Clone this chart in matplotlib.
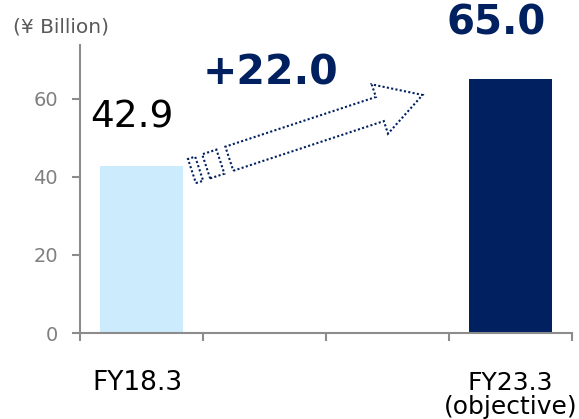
import matplotlib
matplotlib.use("Agg")
import matplotlib.pyplot as plt
import numpy as np
from matplotlib.patches import Polygon
from matplotlib.transforms import blended_transform_factory

# Data
slots = ["FY18.3", "", "", "FY23.3\n(objective)"]
bar_slots = [0, 3]
values = [42.9, 65.0]
bar_colors = ["#CCEBFC", "#002060"]
increase = 22.0

NAVY = "#002060"
GREY = "#8C8C8C"

plt.rcParams["font.family"] = ["DejaVu Sans"]

fig = plt.figure(figsize=(5.79, 4.19), dpi=100)
ax = fig.add_axes([80 / 579, 86 / 419, 492 / 579, 288 / 419])

ax.bar(bar_slots, values, width=0.68, color=bar_colors, zorder=2)

ax.set_xlim(-0.5, len(slots) - 0.5)
ax.set_ylim(0, 73.8)

# axis styling
for side in ["top", "right"]:
    ax.spines[side].set_visible(False)
for side in ["left", "bottom"]:
    ax.spines[side].set_color(GREY)
    ax.spines[side].set_linewidth(1.5)

ax.set_yticks([0, 20, 40, 60])
ax.tick_params(axis="y", direction="out", length=6, width=1.5, color=GREY,
               labelsize=14, labelcolor="#7F7F7F", pad=10)
ax.set_xticks(np.arange(-0.5, len(slots), 1.0))
ax.set_xticklabels([])
ax.tick_params(axis="x", direction="out", length=6, width=1.5, color=GREY)

# category labels under the bars
trans = blended_transform_factory(ax.transData, ax.transAxes)
ax.text(bar_slots[0] - 0.03, -50 / 288, slots[0], transform=trans,
        ha="center", va="center", fontsize=19, color="black")
ax.text(bar_slots[1], -62 / 288, slots[3], transform=trans, ha="center",
        va="center", fontsize=18, color="black", linespacing=0.95)

fig.text(61 / 579, 1 - 27 / 419, "(¥ Billion)", ha="center", va="center",
         fontsize=14.5, color="#595959")

# value labels
ax.text(-0.08, 55.2, f"{values[0]:.1f}", ha="center", va="center",
        fontsize=27, color="black")
ax.text(2.88, 79.2, f"{values[1]:.1f}", ha="center", va="center",
        fontsize=29, color=NAVY, fontweight="bold", clip_on=False)
ax.text(1.05, 66.6, f"+{increase:.1f}", ha="center", va="center",
        fontsize=29.5, color=NAVY, fontweight="bold")


def dotted_arrow(ax, start, tip):
    """Dotted outline arrow with a broken tail, built in display space."""
    p0 = ax.transData.transform(start)
    p1 = ax.transData.transform(tip)
    d = p1 - p0
    length = np.hypot(*d)
    u = d / length
    n = np.array([-u[1], u[0]])
    k = length / 243.0
    half = 12.7 * k
    head_half = 26 * k

    def pt(s, w):
        return p0 + u * s * k + n * w

    shapes = []
    for a, b in [(0, 7.6), (15, 30)]:
        shapes.append([pt(a, -half), pt(b, -half), pt(b, half), pt(a, half)])
    shapes.append([pt(39.4, -half), pt(198, -half), pt(198, -head_half),
                   pt(243, 0), pt(198, head_half), pt(198, half),
                   pt(39.4, half)])
    inv = ax.transData.inverted()
    for verts in shapes:
        poly = Polygon(inv.transform(np.array(verts)), closed=True, fill=False,
                       edgecolor=NAVY, linewidth=1.5, linestyle=(0, (1, 1.1)),
                       zorder=3, clip_on=False)
        ax.add_patch(poly)


dotted_arrow(ax, (0.41, 41.5), (2.285, 61.0))

fig.savefig("out.png", dpi=100)
